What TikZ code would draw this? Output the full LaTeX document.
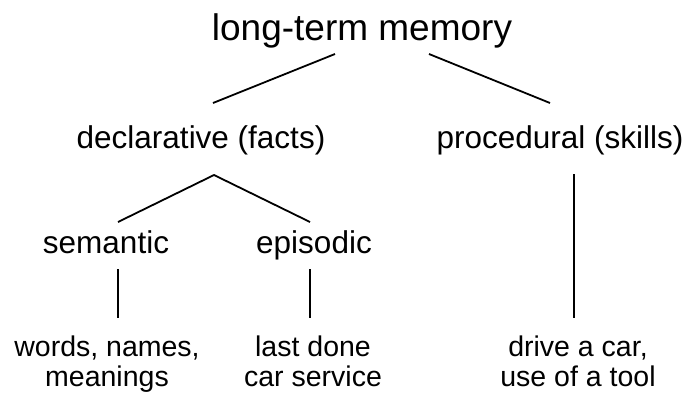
\documentclass[tikz,border=0pt]{standalone}
\usepackage{fontspec}
\setmainfont{Liberation Sans}
\usetikzlibrary{calc}
\tikzset{
	toplabel/.style={anchor=base, inner sep=0pt, font=\fontsize{37}{40}\selectfont},
	midlabel/.style={anchor=base, inner sep=0pt, font=\fontsize{31.5}{34}\selectfont},
	leaflabel/.style={anchor=base, inner sep=0pt, align=center, font=\fontsize{28.5}{29.5}\selectfont},
	branch/.style={line width=1.8pt}
}

\begin{document}
\begin{tikzpicture}[x=1pt, y=-1pt]
			%%%%% START %%%%%
			\useasboundingbox (0, 0) rectangle (699, 392);
			
			\node[toplabel] (ltm) at (362, 40) {long-term memory};
			
			\node[midlabel] (decl) at (201, 148) {declarative (facts)};
			\node[midlabel] (proc) at (560, 148) {procedural (skills)};
			
			\node[midlabel] (sem) at (106, 253) {semantic};
			\node[midlabel] (epi) at (314, 253) {episodic};
			
			% base of a two-line node is its last line
			\node[leaflabel] (words) at (107, 386) {words, names,\\ meanings};
			\node[leaflabel] (last) at (313, 386) {last done\\ car service};
			\node[leaflabel] (drive) at (578, 386) {drive a car,\\ use of a tool};
			
			\draw[branch] ($(ltm.base)+(-27, 14)$) -- ($(decl.base)+(12, -45)$);
			\draw[branch] ($(ltm.base)+(67, 14)$) -- ($(proc.base)+(-10, -45)$);
			
			\draw[branch] ($(sem.base)+(12, -31)$) -- ($(decl.base)+(13, 27)$) -- ($(epi.base)+(-4, -31)$);
			
			\draw[branch] ($(sem.base)+(12, 16)$) -- ($(words.base)+(11, -68)$);
			\draw[branch] ($(epi.base)+(-4, 16)$) -- ($(last.base)+(-3, -68)$);
			\draw[branch] ($(proc.base)+(14, 26)$) -- ($(drive.base)+(-4, -68)$);
			%%%%% END %%%%%
\end{tikzpicture}
\end{document}
